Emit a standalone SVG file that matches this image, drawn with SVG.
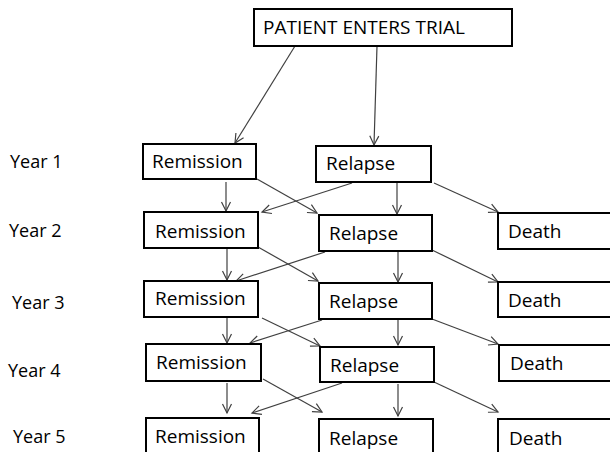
<svg xmlns="http://www.w3.org/2000/svg" width="610" height="452" viewBox="0 0 610 452">
<defs>
<marker id="ah" markerUnits="userSpaceOnUse" markerWidth="12" markerHeight="12" viewBox="0 0 12 12" refX="10" refY="6" orient="auto">
<path d="M1,1.5 L10,6 L1,10.5" fill="none" stroke="#404040" stroke-width="1.2"/>
</marker>
</defs>
<style>
.box{fill:#fff;stroke:#000;stroke-width:2}
.t{font-family:"Open Sans","Liberation Sans",sans-serif;font-size:19px;fill:#000}
.y{font-family:"Open Sans","Liberation Sans",sans-serif;font-size:18px;fill:#000}
.c line{stroke:#404040;stroke-width:1.2;marker-end:url(#ah)}
</style>
<rect width="610" height="452" fill="#fff"/>
<g id="years">
<text class="y" x="10" y="168">Year 1</text>
<text class="y" x="9" y="237">Year 2</text>
<text class="y" x="12" y="309">Year 3</text>
<text class="y" x="8" y="377">Year 4</text>
<text class="y" x="13" y="443">Year 5</text>
</g>
<g class="c" id="connectors">
<line x1="295" y1="46" x2="235" y2="143"/>
<line x1="377" y1="46" x2="374" y2="145"/>
<line x1="226" y1="182" x2="226" y2="211"/>
<line x1="257" y1="179" x2="317" y2="213"/>
<line x1="352" y1="183" x2="262" y2="212"/>
<line x1="397" y1="183" x2="397" y2="214"/>
<line x1="434" y1="183" x2="498" y2="212"/>
<line x1="227" y1="249" x2="227" y2="280"/>
<line x1="258" y1="247" x2="318" y2="281"/>
<line x1="325" y1="252" x2="236" y2="281"/>
<line x1="398" y1="252" x2="398" y2="282"/>
<line x1="432" y1="250" x2="498" y2="282"/>
<line x1="227" y1="318" x2="227" y2="343"/>
<line x1="262" y1="318" x2="320" y2="346"/>
<line x1="322" y1="320" x2="250" y2="343"/>
<line x1="398" y1="320" x2="398" y2="345"/>
<line x1="432" y1="319" x2="498" y2="344"/>
<line x1="227" y1="383" x2="227" y2="413"/>
<line x1="263" y1="379" x2="322" y2="412"/>
<line x1="342" y1="383" x2="252" y2="413"/>
<line x1="398" y1="384" x2="398" y2="416"/>
<line x1="434" y1="382" x2="498" y2="412"/>
</g>
<g id="start"><rect class="box" x="254" y="9" width="258" height="37"/><text class="t" x="263" y="34">PATIENT ENTERS TRIAL</text></g>
<g id="rem1"><rect class="box" x="143" y="144" width="113" height="35"/><text class="t" x="152" y="168">Remission</text></g>
<g id="rel1"><rect class="box" x="316" y="146" width="115" height="36"/><text class="t" x="326" y="170">Relapse</text></g>
<g id="rem2"><rect class="box" x="144" y="212" width="114" height="36"/><text class="t" x="155" y="238">Remission</text></g>
<g id="rel2"><rect class="box" x="319" y="215" width="113" height="36"/><text class="t" x="329" y="240">Relapse</text></g>
<g id="death2"><rect class="box" x="498" y="213" width="130" height="36"/><text class="t" x="508" y="238">Death</text></g>
<g id="rem3"><rect class="box" x="144" y="281" width="114" height="36"/><text class="t" x="155" y="305">Remission</text></g>
<g id="rel3"><rect class="box" x="319" y="283" width="113" height="36"/><text class="t" x="329" y="308">Relapse</text></g>
<g id="death3"><rect class="box" x="498" y="282" width="130" height="35"/><text class="t" x="508" y="307">Death</text></g>
<g id="rem4"><rect class="box" x="146" y="344" width="115" height="37"/><text class="t" x="156" y="369">Remission</text></g>
<g id="rel4"><rect class="box" x="320" y="347" width="114" height="35"/><text class="t" x="330" y="372">Relapse</text></g>
<g id="death4"><rect class="box" x="499" y="345" width="130" height="36"/><text class="t" x="510" y="370">Death</text></g>
<g id="rem5"><rect class="box" x="146" y="418" width="113" height="50"/><text class="t" x="155" y="443">Remission</text></g>
<g id="rel5"><rect class="box" x="319" y="419" width="114" height="50"/><text class="t" x="329" y="445">Relapse</text></g>
<g id="death5"><rect class="box" x="498" y="419" width="130" height="50"/><text class="t" x="509" y="445">Death</text></g>
</svg>
